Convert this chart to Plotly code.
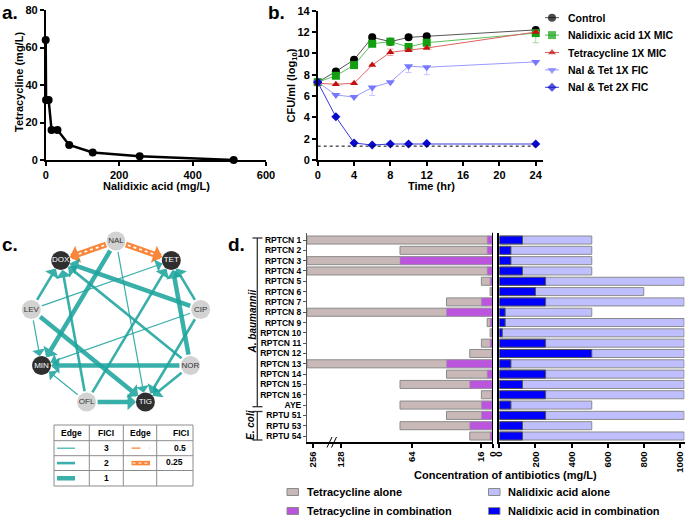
import plotly.graph_objects as go
import numpy as np

W, H = 685, 518
FONT = "Liberation Sans, Arial, Helvetica, sans-serif"

# ---------------- Panel a: isobologram ----------------
nal_iso = [0, 1, 8, 16, 32, 64, 128, 256, 512]
tet_iso = [64, 32, 32, 16, 16, 8, 4, 2, 0]

# ---------------- Panel b: time-kill ----------------
time_hr = [0, 2, 4, 6, 8, 10, 12, 24]
control = [7.3, 8.3, 9.4, 11.5, 11.1, 11.5, 11.6, 12.2]
nal_mic = [7.3, 7.9, 8.9, 10.9, 11.1, 10.6, 11.0, 11.9]
tet_mic = [7.2, 7.1, 7.2, 8.9, 10.1, 10.3, 10.5, 12.0]
fic1x = [7.3, 6.1, 5.9, 6.8, 7.3, 8.8, 8.7, 9.2]
fic2x = [7.3, 4.05, 1.6, 1.4, 1.5, 1.5, 1.55, 1.5]
control_err = [0.05, 0.15, 0.15, 0.3, 0.2, 0.1, 0.1, 0.1]
nal_err_lo = [0, 0, 0, 0, 0, 0, 0, 0.9]
nal_err_hi = [0, 0, 0, 0, 0.2, 0, 0, 0]
tet_err = [0, 0, 0, 0, 0.3, 0, 0, 0]
fic1x_err_lo = [0, 0, 0, 0.75, 0, 0.6, 0.7, 0]
detection_limit = 1.3
series_names = ["Control", "Nalidixic acid 1X MIC", "Tetracycline 1X MIC",
                "Nal & Tet 1X FIC", "Nal & Tet 2X FIC"]

# ---------------- Panel c: interaction network ----------------
node_names = ["NAL", "TET", "CIP", "NOR", "TIG", "OFL", "MIN", "LEV", "DOX"]
dark_nodes = ["TET", "TIG", "MIN", "DOX"]
edge_src = ["NAL", "NAL", "NAL", "NAL", "LEV", "LEV", "LEV", "LEV", "CIP", "CIP",
            "CIP", "CIP", "NOR", "NOR", "NOR", "NOR", "OFL", "OFL", "OFL", "OFL"]
edge_dst = ["DOX", "TET", "MIN", "TIG", "DOX", "TET", "MIN", "TIG", "DOX", "TET",
            "MIN", "TIG", "DOX", "TET", "MIN", "TIG", "DOX", "TET", "MIN", "TIG"]
edge_fici = [0.25, 0.25, 1, 3, 2, 3, 3, 1, 1, 2, 3, 2, 2, 1, 1, 2, 2, 2, 3, 1]

# ---------------- Panel d: MICs ----------------
strains = ["RPTCN 1", "RPTCN 2", "RPTCN 3", "RPTCN 4", "RPTCN 5", "RPTCN 6", "RPTCN 7",
           "RPTCN 8", "RPTCN 9", "RPTCN 10", "RPTCN 11", "RPTCN 12", "RPTCN 13",
           "RPTCN 14", "RPTCN 15", "RPTCN 16", "AYE", "RPTU 51", "RPTU 53", "RPTU 54"]
tet_alone = [256, 128, 256, 256, 16, 4, 64, 256, 8, 4, 16, 32, 256, 64, 128, 16, 128, 64, 128, 32]
tet_comb = [8, 8, 128, 8, 4, 2, 16, 64, 4, 2, 4, 2, 64, 8, 32, 2, 16, 16, 32, 4]
nal_alone = [512, 512, 512, 512, 1024, 800, 1024, 512, 1024, 1024, 1024, 1024, 1024, 1024,
             1024, 1024, 512, 1024, 512, 1024]
nal_comb = [128, 64, 64, 128, 256, 200, 256, 32, 32, 16, 256, 512, 64, 256, 128, 256, 64,
            256, 128, 128]
tet_ticks = [0, 16, 112, 209, 248]
tet_ticktext = ["0", "16", "64", "128", "256"]
nal_ticks = [0, 200, 400, 600, 800, 1000]


def px(x):
    return x / W


def py(y):
    return 1 - y / H


fig = go.Figure()

# ---- a
fig.add_trace(go.Scatter(x=nal_iso, y=tet_iso, mode="lines+markers",
                         line=dict(color="black", width=2.5),
                         marker=dict(size=8, color="black"),
                         xaxis="x", yaxis="y", cliponaxis=False, showlegend=False))

# ---- b
b_series = [control, nal_mic, tet_mic, fic1x, fic2x]
b_lo = [control_err, nal_err_lo, tet_err, fic1x_err_lo, [0] * 8]
b_hi = [control_err, nal_err_hi, tet_err, [0] * 8, [0] * 8]
b_mcol = ["#000000", "#12A012", "#C01010", "#7878FF", "#0A0ACC"]
b_lcol = ["#555555", "#5CC05C", "#E06060", "#9A9AFF", "#3A3ADD"]
b_ecol = ["#BBBBBB", "#9FDB9F", "#EFA0A0", "#C4C4FF", "#9090EE"]
b_sym = ["circle", "square", "triangle-up", "triangle-down", "diamond"]
b_size = [8, 8, 7, 8, 7]
for s, lo, hi, mc, lc, ec, sym, sz in zip(b_series, b_lo, b_hi, b_mcol, b_lcol, b_ecol, b_sym, b_size):
    fig.add_trace(go.Scatter(x=time_hr, y=s, mode="lines+markers",
                             line=dict(color=lc, width=1),
                             marker=dict(symbol=sym, size=sz, color=mc),
                             error_y=dict(type="data", array=hi, arrayminus=lo, symmetric=False,
                                          color=ec, thickness=1, width=3),
                             xaxis="x2", yaxis="y2", cliponaxis=False, showlegend=False))

# legend for b (manual, pixel overlay axis)
leg_y0, leg_dy = 17.7, 17.4
for i, (nm, mc, lc, sym, sz) in enumerate(zip(series_names, b_mcol, b_lcol, b_sym, b_size)):
    yy = leg_y0 + i * leg_dy
    fig.add_trace(go.Scatter(x=[545, 552, 559], y=[yy] * 3, mode="lines+markers",
                             line=dict(color=lc, width=1),
                             marker=dict(symbol=sym, size=[0, sz, 0], color=mc, line=dict(width=0)),
                             xaxis="x5", yaxis="y5", showlegend=False, hoverinfo="skip"))
    fig.add_annotation(x=566, y=yy, xref="x5", yref="y5", text=nm, showarrow=False,
                       xanchor="left", yanchor="middle",
                       font=dict(family=FONT, size=10.5, color="black", weight="bold"))

# ---- d bars
ypos = list(range(len(strains)))
bar_line = dict(color="#8A8A8A", width=1)
fig.add_trace(go.Bar(y=ypos, x=tet_alone, orientation="h", width=0.78,
                     marker=dict(color="#C9B8B8", line=bar_line),
                     xaxis="x3", yaxis="y3", showlegend=False))
fig.add_trace(go.Bar(y=ypos, x=tet_comb, orientation="h", width=0.78,
                     marker=dict(color="#BB55DD", line=dict(color="#9A9A9A", width=0.6)),
                     xaxis="x3", yaxis="y3", showlegend=False))
fig.add_trace(go.Bar(y=ypos, x=nal_alone, orientation="h", width=0.78,
                     marker=dict(color="#BFBFFF", line=bar_line),
                     xaxis="x4", yaxis="y4", showlegend=False))
fig.add_trace(go.Bar(y=ypos, x=nal_comb, orientation="h", width=0.78,
                     marker=dict(color="#0000FF", line=dict(color="#555555", width=1)),
                     xaxis="x4", yaxis="y4", showlegend=False))

# ---- c network (pixel overlay axis, circular layout)
cx, cy, rx, ry = 116, 324, 86, 83
pos = {}
for i, n in enumerate(node_names):
    a = np.deg2rad(90 - 40 * i)
    pos[n] = (cx + rx * np.cos(a), cy - ry * np.sin(a))

width_map = {3: 1.2, 2: 2.6, 1: 4.5}
size_map = {3: 1.8, 2: 1.0, 1: 0.62}
TEAL = "rgba(30,165,158,0.88)"
ORANGE = "#F8873C"
node_r = 9.5
for s, d, f in zip(edge_src, edge_dst, edge_fici):
    x0, y0 = pos[s]
    x1, y1 = pos[d]
    if f in width_map:
        fig.add_annotation(x=x1, y=y1, ax=x0, ay=y0, xref="x5", yref="y5", axref="x5", ayref="y5",
                           showarrow=True, arrowhead=1, arrowsize=size_map[f],
                           arrowwidth=width_map[f], arrowcolor=TEAL,
                           standoff=node_r, startstandoff=node_r, text="")
    else:
        ux, uy = (x1 - x0), (y1 - y0)
        L = np.hypot(ux, uy)
        ux, uy = ux / L, uy / L
        sx, sy = x0 + ux * (node_r + 1), y0 + uy * (node_r + 1)
        ex, ey = x1 - ux * (node_r + 6), y1 - uy * (node_r + 6)
        fig.add_trace(go.Scatter(x=[sx, ex], y=[sy, ey], mode="lines",
                                 line=dict(color=ORANGE, width=6),
                                 xaxis="x5", yaxis="y5", showlegend=False, hoverinfo="skip"))
        fig.add_trace(go.Scatter(x=[sx + ux * 2, ex], y=[sy + uy * 2, ey], mode="lines",
                                 line=dict(color="white", width=1.6, dash="dot"),
                                 xaxis="x5", yaxis="y5", showlegend=False, hoverinfo="skip"))
        hx, hy = x1 - ux * (node_r + 10), y1 - uy * (node_r + 10)
        fig.add_annotation(x=x1, y=y1, ax=hx, ay=hy, xref="x5", yref="y5", axref="x5", ayref="y5",
                           showarrow=True, arrowhead=1, arrowsize=0.5, arrowwidth=6,
                           arrowcolor=ORANGE, standoff=node_r, text="")

fig.add_trace(go.Scatter(
    x=[pos[n][0] for n in node_names], y=[pos[n][1] for n in node_names],
    mode="markers+text", text=node_names, textposition="middle center",
    marker=dict(size=19, color=["#2F2F2F" if n in dark_nodes else "#D2D2D2" for n in node_names],
                line=dict(width=0)),
    textfont=dict(family=FONT, size=8,
                  color=["white" if n in dark_nodes else "#333333" for n in node_names]),
    xaxis="x5", yaxis="y5", showlegend=False, hoverinfo="skip"))

# ---- layout axes
tickfont = dict(family=FONT, size=11, color="black", weight="bold")
base = dict(showgrid=False, zeroline=False, showline=True, linecolor="black", linewidth=1.5,
            ticks="outside", ticklen=4, tickwidth=1.5, tickcolor="black", tickfont=tickfont,
            automargin=False)

fig.update_layout(
    width=W, height=H, margin=dict(l=0, r=0, t=0, b=0, pad=0), autosize=False,
    paper_bgcolor="white", plot_bgcolor="rgba(0,0,0,0)",
    barmode="overlay", showlegend=False,
    xaxis=dict(base, domain=[px(45.7), px(266)], range=[0, 600], tickvals=[0, 200, 400, 600], anchor="y"),
    yaxis=dict(base, domain=[py(160), py(10)], range=[0, 80], dtick=20, anchor="x"),
    xaxis2=dict(base, domain=[px(317.7), px(543)], range=[0, 24.8],
                tickvals=[0, 4, 8, 12, 16, 20, 24], anchor="y2"),
    yaxis2=dict(base, domain=[py(160), py(10.7)], range=[0, 14], dtick=2, anchor="x2"),
    xaxis3=dict(base, domain=[px(307), px(493)], range=[256, 0], tickvals=tet_ticks,
                ticktext=tet_ticktext, tickangle=-90, anchor="y3",
                tickfont=dict(family=FONT, size=9.5, color="black", weight="bold")),
    yaxis3=dict(showgrid=False, zeroline=False, showline=True, linecolor="#555555", linewidth=1,
                ticks="outside", ticklen=3, tickwidth=1, tickcolor="#555555", automargin=False,
                domain=[py(442), py(232.7)], range=[19.58, -0.71], tickvals=ypos, ticktext=strains,
                tickfont=dict(family=FONT, size=8.5, color="black", weight="bold"), anchor="x3"),
    xaxis4=dict(base, domain=[px(499.4), px(684.5)], range=[0, 1026], tickvals=nal_ticks,
                tickangle=-90, anchor="y4",
                tickfont=dict(family=FONT, size=9.5, color="black", weight="bold")),
    yaxis4=dict(showgrid=False, zeroline=False, showline=True, linecolor="black", linewidth=2,
                ticks="", showticklabels=False, domain=[py(442), py(232.7)], automargin=False,
                range=[19.58, -0.71], anchor="x4"),
    xaxis5=dict(domain=[0, 1], range=[0, W], visible=False, anchor="y5", fixedrange=True,
                automargin=False),
    yaxis5=dict(domain=[0, 1], range=[H, 0], visible=False, anchor="x5", fixedrange=True,
                automargin=False),
)

shapes = []
# detection limit in b
shapes.append(dict(type="line", xref="x2", yref="y2", x0=0, x1=24, y0=detection_limit,
                   y1=detection_limit, line=dict(color="black", width=1, dash="dot")))
# zero line of the left bar panel
shapes.append(dict(type="line", xref="x3", yref="y3 domain", x0=0, x1=0, y0=0, y1=1,
                   line=dict(color="black", width=2)))


def pline(x0, y0, x1, y1, color="black", width=1, dash=None):
    ln = dict(color=color, width=width)
    if dash:
        ln["dash"] = dash
    shapes.append(dict(type="line", xref="x5", yref="y5", x0=x0, y0=y0, x1=x1, y1=y1, line=ln))


# axis break marks
pline(327, 447.5, 332, 437, width=1)
pline(331.5, 447.5, 336.5, 437, width=1)
# group brackets
pline(257.3, 238, 257.3, 406.7, color="#333333", width=1.3)
pline(252.5, 238, 262.5, 238, color="#333333", width=1.3)
pline(252.5, 406.7, 262.5, 406.7, color="#333333", width=1.3)
pline(257.3, 411.5, 257.3, 440, color="#333333", width=1.3)
pline(252.5, 411.5, 262.5, 411.5, color="#333333", width=1.3)
pline(252.5, 440, 262.5, 440, color="#333333", width=1.3)

# table in c
tcol = [54, 89.3, 123.3, 156.7, 193]
trow = [425, 440.7, 455.7, 470.5, 486]
for xv in tcol:
    pline(xv, trow[0], xv, trow[-1], color="#8C8C8C", width=1)
for yv in trow:
    pline(tcol[0], yv, tcol[-1], yv, color="#8C8C8C", width=1)
row_mid = [(trow[i] + trow[i + 1]) / 2 for i in range(4)]
pline(57, row_mid[1], 75, row_mid[1], color=TEAL, width=1.2)
pline(57, row_mid[2], 75, row_mid[2], color=TEAL, width=2.6)
pline(57, row_mid[3], 75, row_mid[3], color=TEAL, width=4.5)
pline(131.5, row_mid[1], 150, row_mid[1], color=ORANGE, width=1.3, dash="dash")
pline(131.5, row_mid[2], 150, row_mid[2], color=ORANGE, width=4.5)
pline(132.5, row_mid[2], 149, row_mid[2], color="white", width=1, dash="dot")

# legend boxes in d
leg_boxes = [(287, 488.5, "#C9B8B8"), (488.5, 488.5, "#BFBFFF"),
             (287, 507.5, "#BB55DD"), (488.5, 507.5, "#0000FF")]
for bx, by, col in leg_boxes:
    shapes.append(dict(type="rect", xref="x5", yref="y5", x0=bx, x1=bx + 11.5, y0=by, y1=by + 7,
                       fillcolor=col, line=dict(color="#8A8A8A", width=1)))
fig.update_layout(shapes=shapes)


def ptext(x, y, txt, size=11, bold=True, xanchor="center", yanchor="middle", angle=0,
          color="black", italic=False):
    fig.add_annotation(x=x, y=y, xref="x5", yref="y5", text=txt, showarrow=False,
                       xanchor=xanchor, yanchor=yanchor, textangle=angle,
                       font=dict(family=FONT, size=size, color=color,
                                 weight="bold" if bold else "normal",
                                 style="italic" if italic else "normal"))


# panel letters
ptext(0, 12, "a.", size=19, xanchor="left")
ptext(266, 12, "b.", size=19, xanchor="left")
ptext(0, 244, "c.", size=19, xanchor="left")
ptext(226, 244, "d.", size=19, xanchor="left")
# axis titles
ptext(19, 82, "Tetracycline (mg/L)", angle=-90)
ptext(156, 186, "Nalidixic acid (mg/L)")
ptext(291.5, 86, "CFU/ml (log<sub>10</sub>)", angle=-90)
ptext(431.7, 185.5, "Time (hr)")
ptext(505, 475, "Concentration of antibiotics (mg/L)")
ptext(251.5, 322, "A. baumannii", size=10, angle=-90, italic=True)
ptext(250.5, 425.5, "E. coli", size=10, angle=-90, italic=True)
# d legend text
ptext(305, 492, "Tetracycline alone", xanchor="left")
ptext(505.5, 492, "Nalidixic acid alone", xanchor="left")
ptext(305, 511, "Tetracycline in combination", xanchor="left")
ptext(505.5, 511, "Nalidixic acid in combination", xanchor="left")
# table text
ptext((tcol[0] + tcol[1]) / 2, row_mid[0], "Edge", size=8.5)
ptext((tcol[1] + tcol[2]) / 2, row_mid[0], "FICI", size=8.5)
ptext((tcol[2] + tcol[3]) / 2, row_mid[0], "Edge", size=8.5)
ptext(181, row_mid[0], "FICI", size=8.5)
ptext((tcol[1] + tcol[2]) / 2, row_mid[1], "3", size=8.5)
ptext((tcol[1] + tcol[2]) / 2, row_mid[2], "2", size=8.5)
ptext((tcol[1] + tcol[2]) / 2, row_mid[3], "1", size=8.5)
ptext(180, row_mid[1], "0.5", size=8.5)
ptext(174, row_mid[2] - 1, "0.25", size=8.5)

fig.write_html("out.html", config={"displayModeBar": False},
               post_script="document.body.style.margin='0';document.body.style.overflow='hidden';")
